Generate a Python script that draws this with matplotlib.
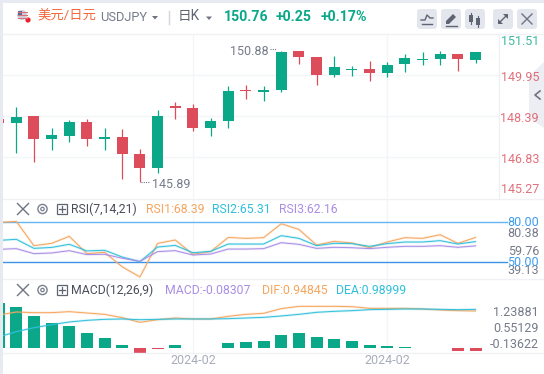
import matplotlib
matplotlib.use("Agg")
import matplotlib.pyplot as plt
from matplotlib.patches import FancyBboxPatch, Circle, Polygon, Rectangle
import numpy as np

plt.rcParams['font.family'] = ['Roboto', 'Noto Sans CJK SC', 'DejaVu Sans']

W, H = 544, 374
GREEN = "#0aa888"
RED = "#dc4c5a"
GRAY = "#767b8a"
GRID = "#f4f5f8"
ORANGE = "#f6a55e"
CYAN = "#2fc0dc"
PURPLE = "#a98ee6"

# first candle is the one cut off by the left edge
opens = [148.28, 148.12, 148.39, 147.51, 147.63, 148.16, 147.51, 147.59, 146.94, 146.41,
         148.77, 148.69, 147.93, 148.20, 149.38, 149.30, 149.38, 150.86, 150.63, 149.95,
         150.14, 150.18, 150.03, 150.37, 150.52, 150.56, 150.75, 150.52]
closes = [148.12, 148.35, 147.51, 147.67, 148.16, 147.51, 147.59, 146.94, 146.41, 148.39,
          148.69, 147.93, 148.20, 149.34, 149.34, 149.38, 150.83, 150.63, 149.95, 150.25,
          150.18, 150.03, 150.33, 150.60, 150.56, 150.75, 150.56, 150.83]
highs = [148.35, 148.73, 148.39, 147.93, 148.24, 148.28, 147.93, 147.90, 147.13, 148.62,
         148.92, 148.85, 148.31, 149.53, 149.57, 149.53, 150.88, 150.86, 150.63, 150.67,
         150.29, 150.48, 150.44, 150.75, 150.83, 150.87, 150.75, 150.83]
lows = [148.00, 146.98, 146.64, 147.10, 147.40, 147.25, 147.10, 145.99, 145.89, 146.22,
        148.28, 147.82, 147.63, 147.93, 149.04, 148.96, 149.30, 150.37, 149.57, 149.87,
        149.91, 149.72, 149.87, 150.06, 150.33, 150.33, 150.10, 150.41]

rsi1 = [79.5, 80.2, 62.3, 64.0, 69.2, 56.4, 57.4, 46.6, 39.2, 64.0, 66.5, 55.9, 57.9, 68.4,
        67.7, 68.2, 78.5, 74.3, 62.8, 65.5, 64.3, 60.8, 65.0, 68.2, 67.7, 70.4, 64.0, 68.39]
rsi2 = [66.2, 67.0, 60.3, 61.0, 63.3, 58.4, 58.9, 53.9, 50.5, 61.3, 62.5, 57.1, 58.1, 63.5,
        63.5, 63.5, 69.7, 67.7, 62.3, 64.0, 63.8, 61.8, 63.8, 65.0, 65.0, 66.0, 63.5, 65.31]
rsi3 = [59.6, 60.1, 56.4, 56.9, 58.6, 55.7, 55.9, 53.0, 50.7, 57.9, 58.6, 55.4, 56.1, 59.8,
        59.8, 60.1, 64.5, 63.3, 60.3, 61.1, 60.8, 60.1, 61.1, 61.8, 61.8, 62.3, 61.1, 62.16]

macd_bars = [1.15, 1.05, 0.82, 0.64, 0.56, 0.385, 0.256, 0.077, -0.128, -0.025, 0.077, 0.012,
             0.012, 0.128, 0.154, 0.18, 0.333, 0.385, 0.282, 0.23, 0.18, 0.077, 0.051, 0.017,
             0.012, -0.01, -0.077, -0.083]
dif = [0.846, 0.923, 0.906, 0.906, 0.932, 0.897, 0.863, 0.778, 0.658, 0.726, 0.769, 0.744,
       0.744, 0.812, 0.863, 0.889, 1.009, 1.068, 1.068, 1.068, 1.06, 1.017, 1.017, 1.017,
       1.0, 0.974, 0.957, 0.948]
dea = [0.282, 0.419, 0.521, 0.598, 0.667, 0.709, 0.735, 0.744, 0.726, 0.735, 0.744, 0.744,
       0.744, 0.752, 0.769, 0.786, 0.821, 0.863, 0.915, 0.94, 0.957, 0.983, 0.991, 1.0,
       1.0, 0.991, 0.983, 0.99]

price_ticks = [151.51, 149.95, 148.39, 146.83, 145.27]
date_ticks = [10, 21]
date_labels = ["2024-02", "2024-02"]
rsi_levels = [80.0, 50.0]
rsi_labels = ["80.38", "59.76", "39.13"]
macd_labels = ["1.23881", "0.55129", "-0.13622"]

X_LEFT, X_RIGHT = -0.753, 27.33


def paneAxes(fig, top, bottom):
    ax = fig.add_axes([3 / W, 1 - bottom / H, 496 / W, (bottom - top) / H])
    ax.patch.set_alpha(0)
    ax.set_xlim(X_LEFT, X_RIGHT)
    for s in ax.spines.values():
        s.set_visible(False)
    ax.set_xticks([])
    ax.set_yticks([])
    for d in date_ticks:
        ax.axvline(d, color=GRID, lw=1, zorder=0)
    return ax


def glowLine(ax, x, y, color):
    ax.plot(x, y, color=color, lw=1.8, alpha=0.2, solid_capstyle="round")
    ax.plot(x, y, color=color, lw=0.7)


def closeIcon(ov, cx, cy, r=5.5, color="#6f7482", lw=1.0):
    ov.plot([cx - r, cx + r], [cy - r, cy + r], color=color, lw=lw)
    ov.plot([cx - r, cx + r], [cy + r, cy - r], color=color, lw=lw)


def paneTools(ov, cy):
    closeIcon(ov, 23, cy)
    ov.add_patch(Circle((42.5, cy), 4.6, fill=False, ec="#7b808e", lw=1.0))
    ov.add_patch(Circle((42.5, cy), 1.7, fill=False, ec="#7b808e", lw=0.9))
    ov.add_patch(Rectangle((57, cy - 5), 10, 10, fill=False, ec="#5f6472", lw=0.9))
    ov.plot([59, 65], [cy, cy], color="#5f6472", lw=0.9)
    ov.plot([62, 62], [cy - 3, cy + 3], color="#5f6472", lw=0.9)


fig = plt.figure(figsize=(W / 100, H / 100), dpi=100, facecolor="white")

xs = np.arange(len(opens)) - 1

# price pane
ax = paneAxes(fig, 34, 198)
ax.set_ylim(price_ticks[-1], price_ticks[0])
for p in price_ticks[1:4]:
    ax.axhline(p, color=GRID, lw=1, zorder=0)
colors = [GREEN if c >= o else RED for o, c in zip(opens, closes)]
ax.vlines(xs, lows, highs, colors=colors, lw=0.9, zorder=2)
ax.bar(xs, np.abs(np.array(closes) - np.array(opens)), bottom=np.minimum(opens, closes),
       width=0.62, color=colors, lw=0, zorder=3)

# rsi pane
ax2 = paneAxes(fig, 199, 279)
ax2.set_ylim(37.66, 96.8)
ax2.axhline(rsi_levels[0], color="#62b6f2", lw=1.0)
ax2.axhline(rsi_levels[1], color="#3d94e4", lw=1.0)
glowLine(ax2, xs, rsi1, ORANGE)
glowLine(ax2, xs, rsi2, CYAN)
glowLine(ax2, xs, rsi3, PURPLE)

# macd pane
ax3 = paneAxes(fig, 279, 353)
ax3.set_ylim(-0.128, 1.769)
bar_colors = [GREEN if v >= 0 else RED for v in macd_bars]
ax3.bar(xs, macd_bars, width=0.68, color=bar_colors, lw=0)
glowLine(ax3, xs, dif, ORANGE)
glowLine(ax3, xs, dea, CYAN)

# everything around the panes is drawn in pixel coordinates
ov = fig.add_axes([0, 0, 1, 1])
ov.set_xlim(0, W)
ov.set_ylim(H, 0)
ov.axis("off")
ov.patch.set_alpha(0)

ov.add_patch(Rectangle((0, 0), W, 3, color="#e8eaf1", lw=0))
ov.add_patch(Rectangle((0, 0), 3, H, color="#e8eaf1", lw=0))
for y in [33.5, 198.5, 279, 353]:
    ov.plot([3, W], [y, y], color="#f0f1f5", lw=1)
ov.plot([498.7, 498.7], [34, 198], color="#eff0f4", lw=1)
ov.plot([507, 499], [221.7, 221.7], color="#62b6f2", lw=1.0)
ov.plot([507, 499], [262.3, 262.3], color="#3d94e4", lw=1.0)

# header
ov.add_patch(Circle((22, 15), 5, color="#cfd0dc", lw=0))
for yy in [12, 15, 18]:
    ov.plot([17.5, 26.5], [yy, yy], color="#d8707c", lw=0.8)
ov.add_patch(Rectangle((17.5, 10.5), 4.5, 4, color="#5a6a9a", lw=0))
ov.add_patch(Circle((28, 20), 2.6, color="#f01e2c", lw=0))
ov.text(37, 16, "美元/日元", color="#f4683c", fontsize=9.6, va="center", ha="left")
ov.text(100, 17.5, "USDJPY", color=GRAY, fontsize=9.3, va="center", ha="left")
ov.add_patch(Polygon([[152, 16], [158, 16], [155, 19.5]], color="#6f7482", lw=0))
ov.plot([168.5, 168.5], [11, 24], color="#d4d6de", lw=1)
ov.text(178, 16, "日K", color="#5f6472", fontsize=9.8, va="center", ha="left")
ov.add_patch(Polygon([[206, 16.5], [212, 16.5], [209, 20]], color="#6f7482", lw=0))
ov.text(224, 16.5, "150.76", color=GREEN, fontsize=10.2, fontweight="bold", va="center", ha="left")
ov.text(276, 16.5, "+0.25", color=GREEN, fontsize=10.2, fontweight="bold", va="center", ha="left")
ov.text(321, 16.5, "+0.17%", color=GREEN, fontsize=10.2, fontweight="bold", va="center", ha="left")

for bx in [417, 441, 465, 493, 517]:
    ov.add_patch(FancyBboxPatch((bx + 2, 11), 16, 16, boxstyle="round,pad=2,rounding_size=3",
                                fc="#e4e6ee", ec="none"))
ov.plot([421, 425, 427, 430, 433], [20, 20, 15, 18, 18], color="#5f6472", lw=1)
ov.plot([422, 432], [24, 24], color="#5f6472", lw=1)
ov.add_patch(Polygon([[446, 21], [453, 14], [456, 17], [449, 24], [446, 24]], color="#5f6472", lw=0))
ov.plot([446, 457], [25.5, 25.5], color="#5f6472", lw=1)
for cx, top, bot in [(471, 15, 22), (478, 18, 25)]:
    ov.plot([cx, cx], [top - 2, bot + 2], color="#5f6472", lw=0.8)
    ov.add_patch(Rectangle((cx - 2, top), 4, bot - top, color="#5f6472", lw=0))
ov.plot([499, 507], [23, 15], color="#5f6472", lw=1)
ov.add_patch(Polygon([[503, 14], [508, 14], [508, 19]], color="#5f6472", lw=0))
ov.add_patch(Polygon([[498, 19], [498, 24], [503, 24]], color="#5f6472", lw=0))
closeIcon(ov, 527, 19, r=5)

# collapse tab on the right
ov.add_patch(Polygon([[529, 76], [544, 62], [544, 128], [529, 118]], color="#eceef3", lw=0))
ov.plot([540, 535, 540], [91, 95, 99], color="#6f7482", lw=1.2)

# price side labels
price_y = [41, 77, 118, 159, 189]
price_col = [GREEN, RED, RED, RED, RED]
for p, y, c in zip(price_ticks, price_y, price_col):
    ov.text(539, y, "%.2f" % p, color=c, alpha=0.8, fontsize=9, va="center", ha="right")

# high and low markers
ov.text(230, 51, "%.2f" % max(highs), color=GRAY, fontsize=9, va="center", ha="left")
ov.plot([270, 276], [48.5, 48.5], color=GRAY, lw=0.8, ls=(0, (1, 1)))
ov.text(152, 184, "%.2f" % min(lows), color=GRAY, fontsize=9, va="center", ha="left")
ov.plot([141, 150], [182, 182], color=GRAY, lw=0.8, ls=(0, (1, 1)))

# rsi header and labels
paneTools(ov, 209)
ov.text(71, 209, "RSI(7,14,21)", color="#4a4e5a", fontsize=8.8, va="center", ha="left")
ov.text(146, 209, "RSI1:%.2f" % rsi1[-1], color=ORANGE, fontsize=8.8, va="center", ha="left")
ov.text(212, 209, "RSI2:%.2f" % rsi2[-1], color=CYAN, fontsize=8.8, va="center", ha="left")
ov.text(279, 209, "RSI3:%.2f" % rsi3[-1], color=PURPLE, fontsize=8.8, va="center", ha="left")
for lv, y in zip(rsi_levels, [222, 262]):
    ov.text(539, y, "%.2f" % lv, color="#3d9cf0", fontsize=9, va="center", ha="right", zorder=5)
for lab, y in zip(rsi_labels, [233, 251, 270]):
    ov.text(539, y, lab, color=GRAY, fontsize=9, va="center", ha="right")

# macd header and labels
paneTools(ov, 290)
ov.text(71, 290, "MACD(12,26,9)", color="#4a4e5a", fontsize=8.8, va="center", ha="left")
ov.text(165, 290, "MACD:-0.08307", color=PURPLE, fontsize=8.8, va="center", ha="left")
ov.text(262, 290, "DIF:0.94845", color=ORANGE, fontsize=8.8, va="center", ha="left")
ov.text(336, 290, "DEA:0.98999", color=CYAN, fontsize=8.8, va="center", ha="left")
for lab, y in zip(macd_labels, [312, 329, 345]):
    ov.text(539, y, lab, color=GRAY, fontsize=9, va="center", ha="right")

for d, lab in zip(date_ticks, date_labels):
    px = 3 + (d - X_LEFT) / (X_RIGHT - X_LEFT) * 496
    ov.text(px, 361, lab, color="#a9adba", fontsize=9, va="center", ha="center")

fig.savefig("out.png", dpi=100)
